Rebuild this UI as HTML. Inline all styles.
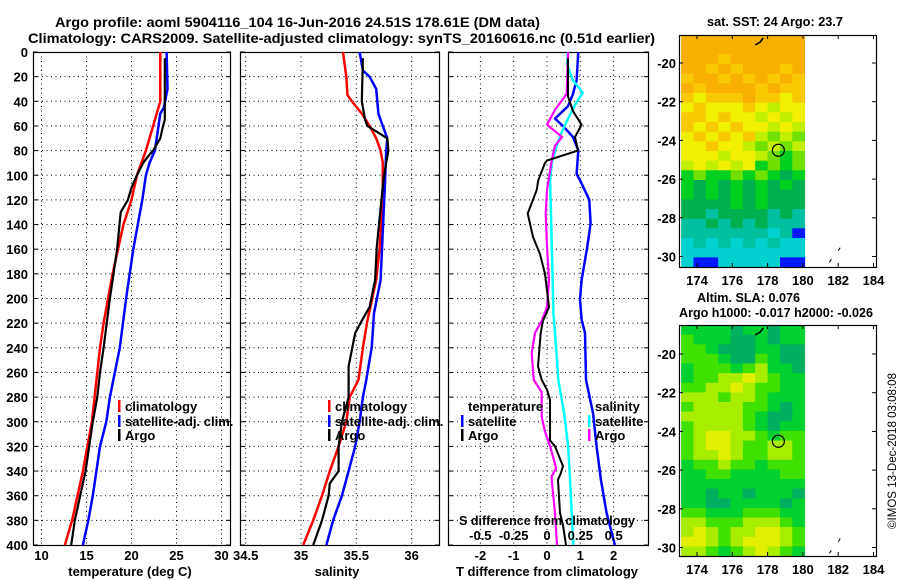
<!DOCTYPE html>
<html><head><meta charset="utf-8">
<style>
html,body{margin:0;padding:0;background:#fff;}
svg{display:block;font-family:"Liberation Sans",Arial,sans-serif;}
.b{font-weight:bold;font-size:13px;fill:#000;}
</style></head>
<body>
<svg id="fig" width="900" height="580" viewBox="0 0 900 580" xmlns="http://www.w3.org/2000/svg">
<text class="b" x="55" y="27" style="font-size:14px" textLength="485" lengthAdjust="spacingAndGlyphs">Argo profile: aoml 5904116_104 16-Jun-2016 24.51S 178.61E (DM data)</text>
<text class="b" x="28" y="43" style="font-size:14px" textLength="627" lengthAdjust="spacingAndGlyphs">Climatology: CARS2009. Satellite-adjusted climatology: synTS_20160616.nc (0.51d earlier)</text>
<g id="layer"></g>
<text x="0" y="0" font-size="12" transform="translate(896,451) rotate(-90)" text-anchor="middle" textLength="156" lengthAdjust="spacingAndGlyphs">©IMOS 13-Dec-2018 03:08:08</text>
</svg>
<script>
// ---------- data ----------
const depthTicks = [0,20,40,60,80,100,120,140,160,180,200,220,240,260,280,300,320,340,360,380,400];
const tempTicks = [10,15,20,25,30];
const salTicks = [34.5,35,35.5,36];
const salTickLabels = ["34.5","35","35.5","36"];
const tdiffTicks = [-2,-1,0,1,2];
const sdiffTicks = [-0.5,-0.25,0,0.25,0.5];
const sdiffTickLabels = ["-0.5","-0.25","0","0.25","0.5"];

const tClimDepth = [0,40,50,60,70,80,90,100,120,140,160,180,200,220,240,260,280,300,320,340,360,380,400];
const tClimVal = [23.2,23.2,22.8,22.4,22.0,21.6,21.1,20.6,20.0,19.1,18.5,17.9,17.4,16.9,16.5,16.2,15.9,15.6,15.1,14.6,14.0,13.4,12.6];
const tArgoDepth = [5,55,60,70,80,85,90,100,110,120,130,160,200,240,260,280,300,320,340,350,360,380,400];
const tArgoVal = [23.7,23.7,23.5,23.2,22.4,21.8,21.3,20.6,20.0,19.6,18.8,18.4,17.6,16.9,16.5,16.2,15.7,15.3,14.9,14.6,14.3,13.7,13.3];
const tSatDepth = [0,30,45,50,80,90,100,120,160,200,240,280,300,320,340,360,380,400];
const tSatVal = [23.9,24.0,23.6,23.2,22.6,22.0,21.6,21.2,20.2,19.4,18.7,17.6,17.2,16.5,16.1,15.7,15.2,14.6];

const sClimDepth = [0,20,35,40,50,60,70,80,90,100,120,160,185,218,240,266,280,300,320,340,360,380,400];
const sClimVal = [35.38,35.41,35.42,35.46,35.55,35.62,35.68,35.72,35.74,35.74,35.74,35.71,35.68,35.60,35.56,35.52,35.44,35.41,35.34,35.26,35.19,35.11,35.02];
const sArgoDepth = [5,40,55,60,65,70,80,90,104,158,185,207,218,228,255,266,280,300,320,340,350,360,380,400];
const sArgoVal = [35.56,35.55,35.58,35.60,35.69,35.78,35.79,35.77,35.745,35.685,35.67,35.62,35.55,35.49,35.43,35.43,35.43,35.37,35.34,35.34,35.26,35.25,35.19,35.11];
const sSatDepth = [0,15,20,30,50,60,70,80,104,185,212,239,266,280,300,320,340,360,380,400];
const sSatVal = [35.53,35.56,35.62,35.68,35.70,35.74,35.78,35.77,35.76,35.72,35.66,35.64,35.59,35.56,35.53,35.49,35.43,35.37,35.29,35.23];

const dTArgoDepth = [5,36,48,59,69,80,88,90,104,112,131,150,164,180,207,218,228,255,266,274,282,315,320,336,342,347,374,384,400];
const dTArgoVal = [0.63,0.63,0.78,1.04,0.84,0.93,0.0,-0.06,-0.26,-0.31,-0.58,-0.42,-0.21,-0.06,0.06,-0.12,-0.19,-0.27,-0.16,0.0,0.09,0.09,0.24,0.48,0.41,0.33,0.39,0.48,0.57];
const dTSatDepth = [0,23,34,44,54,60,69,80,99,104,120,139,158,185,201,217,228,266,293,320,347,374,400];
const dTSatVal = [0.94,0.89,0.78,0.63,0.24,0.48,0.78,0.94,0.89,0.99,1.27,1.31,1.21,1.04,0.99,1.04,1.14,1.17,1.38,1.49,1.62,1.79,2.04];
const dSArgoDepth = [0,34,47,59,69,76,88,112,131,158,185,207,218,228,244,266,276,296,308,320,334,338,344,347,374,400];
const dSArgoVal = [0.158,0.148,0.06,0,0.113,0.06,0.035,0,-0.01,0,0.015,0,-0.04,-0.09,-0.115,-0.1,-0.04,-0.04,-0.015,0.023,0.06,0.068,0.035,0.035,0.06,0.075];
const dSSatDepth = [0,10,23,33,43,54,65,76,90,104,185,212,239,266,293,320,347,374,400];
const dSSatVal = [0.158,0.15,0.195,0.268,0.21,0.158,0.11,0.073,0.035,0.023,0.043,0.048,0.068,0.085,0.128,0.158,0.173,0.185,0.197];

// maps: rows from north (-18.5) to south (-30.5), 10 cols from 173.1E to 180.1E
const sstRows = ["9999999999","9999999999","9998999999","9989899989","8998989898","9899998988","8788898878","7877787677","8878776767","8787877676","7878786565","7787765656","7776776545","6767674545","4544545434","4343434343","4343434333","3333434333","3323333232","2232323222","2222222120","1212121211","1111111111","1001111100"];
const sstColors = ["#0018ff","#00d0d0","#00c0a0","#00b050","#00d020","#70e000","#c0f000","#f0f000","#f8c800","#f8b000"];
const slaRows = ["1111011011","2111001011","2210001100","2221002100","1222123110","1223343211","2233432211","3332332111","2333322101","3333321001","2333321011","2344332122","2344322332","2334322332","1223221222","1122111122","1111111111","1101101110","1100111101","2211122211","3322233321","3432334432","4432344432","3321234321"];
const slaColors = ["#00b060","#00d030","#40e000","#a8ec00","#e0f000","#f0c800"];
const lonTicks = [174,176,178,180,182,184];
const latTicks = [-20,-22,-24,-26,-28,-30];
const argoLon = 178.61, argoLat = -24.51;

// ---------- drawing ----------
const NS = "http://www.w3.org/2000/svg";
const layer = document.getElementById('layer');
function mk(tag, attrs, parent){ const e=document.createElementNS(NS,tag); for(const k in attrs) e.setAttribute(k,attrs[k]); (parent||layer).appendChild(e); return e; }
function txt(x,y,s,anchor,parent){ const t=mk('text',{x:x,y:y,'class':'b','text-anchor':anchor||'start'},parent); t.textContent=s; return t; }

const top0=52, bot0=545;
function yD(d){ return top0 + d*(bot0-top0)/400; }
const xT = v => 41.5 + (v-10)*9;
const xS = v => 301 + (v-35)*110.6;
const xdT = v => 547 + v*33.3;
const xdS = v => 547 + v*133.3;

function panel(name, x0, x1, xs, ticks, labels, showY){
  const g = mk('g',{});
  
  
  depthTicks.forEach(d=>{
    const y=yD(d);
    if(d>0 && d<400) mk('line',{x1:x0,x2:x1,y1:y,y2:y,stroke:'#000','stroke-width':1,'stroke-dasharray':'1,3.5'},g);
    mk('line',{x1:x0,x2:x0+5,y1:y,y2:y,stroke:'#000'},g);
    mk('line',{x1:x1-5,x2:x1,y1:y,y2:y,stroke:'#000'},g);
    if(showY){ const t=txt(28,y+5,String(d),'end',g);   }
  });
  ticks.forEach((v,i)=>{
    const x=xs(v);
    mk('line',{x1:x,x2:x,y1:top0,y2:bot0,stroke:'#000','stroke-dasharray':'1,3.5'},g);
    if(labels){ const t=txt(x,560,labels[i],'middle',g);   }
  });
  mk('rect',{x:x0+0.5,y:top0+0.5,width:x1-x0-1,height:bot0-top0,fill:'none',stroke:'#000','stroke-width':1.2},g);
  return g;
}
function series(name, depths, vals, xs, color, w, g){
  const pts = depths.map((d,i)=>xs(vals[i]).toFixed(1)+','+yD(d).toFixed(1)).join(' ');
  const p = mk('polyline',{points:pts,fill:'none',stroke:color,'stroke-width':w,'stroke-linejoin':'round'},g);
  
  
}
function legend(x,y,color,label,g){
  if(color) mk('rect',{x:x,y:y-11,width:2.5,height:12,fill:color},g);
  const t=txt(x+7,y,label,'start',g);
  
  
}

// Panel 1
const g1 = panel('temperature-panel',33,231,xT,tempTicks,tempTicks.map(String),true);
const clip1 = mk('clipPath',{id:'c1'}); mk('rect',{x:33,y:52,width:198,height:493},clip1);
const s1 = mk('g',{'clip-path':'url(#c1)'},g1);
series('temp-climatology-line',tClimDepth,tClimVal,xT,'#ff0000',2.5,s1);
series('temp-satellite-line',tSatDepth,tSatVal,xT,'#0000ff',2.5,s1);
series('temp-argo-line',tArgoDepth,tArgoVal,xT,'#000',2.2,s1);
legend(118,411,'#ff0000','climatology',g1);
legend(118,426,'#0000ff','satellite-adj. clim.',g1);
legend(118,440,'#000','Argo',g1);
let t = txt(130,576,'temperature (deg C)','middle',g1);
 

// Panel 2
const g2 = panel('salinity-panel',240,440,xS,salTicks,salTickLabels,false);
series('sal-climatology-line',sClimDepth,sClimVal,xS,'#ff0000',2.5,g2);
series('sal-satellite-line',sSatDepth,sSatVal,xS,'#0000ff',2.5,g2);
series('sal-argo-line',sArgoDepth,sArgoVal,xS,'#000',2.2,g2);
legend(328,411,'#ff0000','climatology',g2);
legend(328,426,'#0000ff','satellite-adj. clim.',g2);
legend(328,440,'#000','Argo',g2);
t = txt(337,576,'salinity','middle',g2);
 

// Panel 3
const g3 = panel('difference-panel',448,649,xdT,tdiffTicks,tdiffTicks.map(String),false);
series('tdiff-satellite-line',dTSatDepth,dTSatVal,xdT,'#0000ff',2.5,g3);
series('sdiff-satellite-line',dSSatDepth,dSSatVal,xdS,'#00ffff',2.5,g3);
series('sdiff-argo-line',dSArgoDepth,dSArgoVal,xdS,'#ff00ff',2.2,g3);
series('tdiff-argo-line',dTArgoDepth,dTArgoVal,xdT,'#000',2,g3);
legend(461,411,null,'temperature',g3);
legend(461,426,'#0000ff','satellite',g3);
legend(461,440,'#000','Argo',g3);
legend(588,411,null,'salinity',g3);
legend(588,426,'#00ffff','satellite',g3);
legend(588,440,'#ff00ff','Argo',g3);
t = txt(547,525,'S difference from climatology','middle',g3);
t.setAttribute('textLength','176');
t.setAttribute('lengthAdjust','spacingAndGlyphs');
 
sdiffTicks.forEach((v,i)=>{ const e=txt(xdS(v),540,sdiffTickLabels[i],'middle',g3);   });
t = txt(547,576,'T difference from climatology','middle',g3);
 

// Maps
function drawMap(name, yTop, yBot, y20, rows, colors, titles, labelY){
  const g = mk('g',{});
  
  
  const fx0=679, fx1=876;
  const lonX = lo => 697 + (lo-174)*17.65;
  const latY = la => y20 + (-20-la)*19.35;
  const latTop = -20 + (y20-yTop)/19.35;
  const latBot = -20 - (yBot-y20)/19.35;
  const nr=rows.length, nc=rows[0].length;
  const dLat=(latTop-latBot)/nr, dLon=7/nc;
  rows.forEach((r,i)=>{
    for(let j=0;j<nc;j++){
      const la=latTop-i*dLat, lo=173.1+j*dLon;
      const x=lonX(lo), y=latY(la);
      const c = mk('rect',{x:x.toFixed(1),y:y.toFixed(1),width:(lonX(lo+dLon)-x+0.4).toFixed(1),height:(latY(la-dLat)-y+0.4).toFixed(1),fill:colors[+r[j]]},g);
      
      
    }
  });
  mk('rect',{x:fx0+0.5,y:yTop+0.5,width:fx1-fx0,height:yBot-yTop,fill:'none',stroke:'#000','stroke-width':1.2},g);
  lonTicks.forEach(lo=>{
    const x=lonX(lo);
    mk('line',{x1:x,x2:x,y1:yTop,y2:yTop+4,stroke:'#000'},g);
    mk('line',{x1:x,x2:x,y1:yBot-4,y2:yBot,stroke:'#000'},g);
    const e=txt(x,labelY,String(lo),'middle',g);  
  });
  latTicks.forEach(la=>{
    const y=latY(la);
    if(y<yTop||y>yBot+2) return;
    mk('line',{x1:fx0,x2:fx0+4,y1:y,y2:y,stroke:'#000'},g);
    mk('line',{x1:fx1-4,x2:fx1+1,y1:y,y2:y,stroke:'#000'},g);
    const e=txt(676,y+5,String(la),'end',g);  
  });
  mk('path',{d:`M${lonX(177.3)} ${yTop+10} l5 -3 l3 -4`,stroke:'#000',fill:'none','stroke-width':1.5},g);
  mk('path',{d:`M${lonX(182.0)} ${latY(-29.7)} l2 -3`,stroke:'#000',fill:'none'},g);
  mk('path',{d:`M${lonX(181.5)} ${latY(-30.3)} l2 -3`,stroke:'#000',fill:'none'},g);
  const m = mk('circle',{cx:lonX(argoLon),cy:latY(argoLat),r:6,fill:'none',stroke:'#000','stroke-width':1.2},g);
  
  
  titles.forEach(tt=>{ const e=txt(tt[0],tt[1],tt[2],tt[3],g); if(tt[4]){ e.setAttribute('textLength',tt[4]); e.setAttribute('lengthAdjust','spacingAndGlyphs'); }   });
}
drawMap('sst-map',35,267,63,sstRows,sstColors,[[775,26,'sat. SST: 24 Argo: 23.7','middle',136]],285);
drawMap('sla-map',325,556,354,slaRows,slaColors,[[697,302,'Altim. SLA: 0.076','start',103],[679,317,'Argo h1000: -0.017 h2000: -0.026','start',194]],574);
</script>
</body></html>
